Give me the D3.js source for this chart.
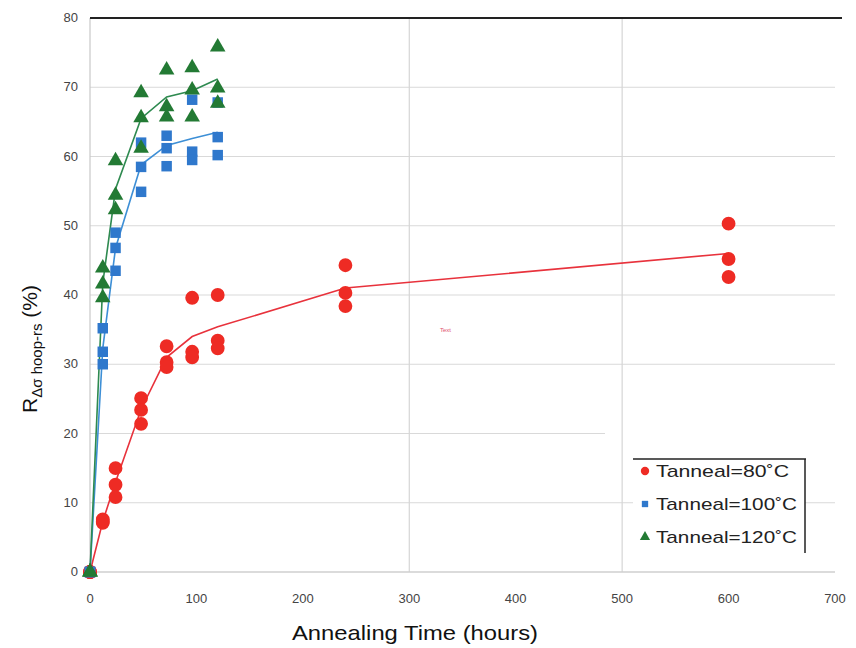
<!DOCTYPE html>
<html>
<head>
    <script src="https://d3js.org/d3.v7.min.js"></script>
    <style>
        body { margin: 0; background: #fff; }
        text { font-family: "Liberation Sans", Arial, sans-serif; }
    </style>
</head>
<body>
    <svg width="856" height="648"></svg>
    <script>
        // annealing times (hours) and measured R values (%), three repeats per time
        var times = [0, 12, 24, 48, 72, 96, 120, 240, 600];
        var r80 = [[0, 0, 0], [7.6, 7.1, 7.3], [15, 12.6, 10.8], [25.1, 23.4, 21.4], [32.6, 30.3, 29.6],
                   [39.6, 31.8, 31], [40, 33.4, 32.3], [44.3, 40.3, 38.4], [50.3, 45.2, 42.6]];
        var times2 = [0, 12, 24, 48, 72, 96, 120];
        var r100 = [[0, 0, 0], [35.2, 31.8, 30], [49, 46.8, 43.5], [62, 58.5, 54.9], [63, 61.2, 58.6],
                    [68.2, 60.7, 59.5], [67.8, 62.8, 60.2]];
        var r120 = [[0, 0, 0], [43.9, 41.6, 39.6], [59.4, 54.4, 52.3], [69.2, 65.6, 61.2], [72.5, 67.2, 65.7],
                    [72.8, 69.6, 65.7], [75.8, 69.9, 67.7]];
        // trend lines
        var fit80 = [0, 7.3, 13, 23.5, 31, 34, 35.4, 41, 46];
        var fit100 = [0, 32.3, 46.8, 58.8, 61.6, 62.6, 63.5];
        var fit120 = [0, 41.7, 55.3, 65.5, 68.6, 69.5, 71.2];
        var xTicks = [0, 100, 200, 300, 400, 500, 600, 700];
        var yTicks = [0, 10, 20, 30, 40, 50, 60, 70, 80];
        var xGrid = [300, 500];
        var legendLabels = ["Tanneal=80\u02DAC", "Tanneal=100\u02DAC", "Tanneal=120\u02DAC"];

        var svg = d3.select("svg");
        var x = d3.scaleLinear().domain([0, 700]).range([90, 835]);
        var y = d3.scaleLinear().domain([0, 80]).range([572, 18]);

        var red = "#ee2b24", blue = "#2f78cc", green = "#237a34";

        // horizontal grid
        svg.append("g").selectAll("line").data(yTicks.slice(1)).enter().append("line")
            .attr("x1", x(0)).attr("x2", function(d) { return d == 20 ? 605 : x(700); })
            .attr("y1", function(d) { return y(d); }).attr("y2", function(d) { return y(d); })
            .attr("stroke", "#d9d9d9").attr("stroke-width", 1.2);
        svg.append("g").selectAll("line").data(xGrid).enter().append("line")
            .attr("x1", function(d) { return x(d); }).attr("x2", function(d) { return x(d); })
            .attr("y1", y(80)).attr("y2", y(0))
            .attr("stroke", "#d6d6d6").attr("stroke-width", 1.2);

        // axes lines
        svg.append("line").attr("x1", x(0)).attr("x2", x(0)).attr("y1", y(80)).attr("y2", y(0))
            .attr("stroke", "#c8c8c8").attr("stroke-width", 1.2);
        svg.append("line").attr("x1", x(0)).attr("x2", x(700)).attr("y1", y(0)).attr("y2", y(0))
            .attr("stroke", "#cfcfcf").attr("stroke-width", 1.5);
        svg.append("line").attr("x1", x(0)).attr("x2", 842).attr("y1", y(80)).attr("y2", y(80))
            .attr("stroke", "#222").attr("stroke-width", 2);

        // tick labels
        svg.append("g").selectAll("text").data(yTicks).enter().append("text")
            .attr("x", 78).attr("y", function(d) { return y(d) + 4; })
            .attr("text-anchor", "end").attr("font-size", 13).attr("fill", "#444")
            .text(function(d) { return d; });
        svg.append("g").selectAll("text").data(xTicks).enter().append("text")
            .attr("x", function(d) { return x(d); }).attr("y", 603)
            .attr("text-anchor", "middle").attr("font-size", 13).attr("fill", "#444")
            .text(function(d) { return d; });

        // axis titles
        svg.append("text").attr("x", 415).attr("y", 640).attr("text-anchor", "middle")
            .attr("font-size", 21).attr("fill", "#111")
            .attr("textLength", 246).attr("lengthAdjust", "spacingAndGlyphs")
            .text("Annealing Time (hours)");
        var yl = svg.append("text").attr("transform", "translate(37,349) rotate(-90)")
            .attr("text-anchor", "middle").attr("font-size", 21).attr("fill", "#111");
        yl.append("tspan").text("R");
        yl.append("tspan").attr("font-size", 15).attr("dy", 5).text("\u0394\u03C3 hoop-rs");
        yl.append("tspan").attr("dy", -5).text(" (%)");

        svg.append("text").attr("x", 440).attr("y", 332).attr("font-size", 6)
            .attr("fill", "#e05070").text("Text");

        // trend lines
        var line = d3.line().x(function(d) { return x(d[0]); }).y(function(d) { return y(d[1]); });
        svg.append("path").datum(d3.zip(times, fit80)).attr("d", line)
            .attr("fill", "none").attr("stroke", "#e8323c").attr("stroke-width", 1.6);
        svg.append("path").datum(d3.zip(times2, fit100)).attr("d", line)
            .attr("fill", "none").attr("stroke", "#3d8fd6").attr("stroke-width", 1.6);
        svg.append("path").datum(d3.zip(times2, fit120)).attr("d", line)
            .attr("fill", "none").attr("stroke", "#2e8a50").attr("stroke-width", 1.6);

        function flat(ts, vals) {
            var out = [];
            ts.forEach(function(t, i) { vals[i].forEach(function(v) { out.push([t, v]); }); });
            return out;
        }

        var circ = d3.symbol().type(d3.symbolCircle).size(150);
        var sq = d3.symbol().type(d3.symbolSquare).size(110);
        var tri = d3.symbol().type(d3.symbolTriangle).size(105);

        function drawSeries(pts, sym, color) {
            svg.append("g").selectAll("path").data(pts).enter().append("path")
                .attr("d", sym)
                .attr("transform", function(d) { return "translate(" + x(d[0]) + "," + y(d[1]) + ")"; })
                .attr("fill", color);
        }
        drawSeries(flat(times, r80), circ, red);
        drawSeries(flat(times2, r100), sq, blue);
        drawSeries(flat(times2, r120), tri, green);

        // legend
        var lg = svg.append("g");
        lg.append("rect").attr("x", 633).attr("y", 459).attr("width", 172).attr("height", 108).attr("fill", "#fff");
        lg.append("line").attr("x1", 633).attr("x2", 806).attr("y1", 459).attr("y2", 459)
            .attr("stroke", "#222").attr("stroke-width", 1.5);
        lg.append("line").attr("x1", 805).attr("x2", 805).attr("y1", 459).attr("y2", 553)
            .attr("stroke", "#222").attr("stroke-width", 1.5);
        var syms = [d3.symbol().type(d3.symbolCircle).size(55), d3.symbol().type(d3.symbolSquare).size(40),
                    d3.symbol().type(d3.symbolTriangle).size(45)];
        var cols = [red, blue, green];
        var widths = [133, 141, 141];
        legendLabels.forEach(function(l, i) {
            var yy = 471 + i * 33;
            lg.append("path").attr("d", syms[i]).attr("transform", "translate(645," + yy + ")").attr("fill", cols[i]);
            lg.append("text").attr("x", 656).attr("y", yy + 6).attr("font-size", 17).attr("fill", "#222")
                .attr("textLength", widths[i]).attr("lengthAdjust", "spacingAndGlyphs").text(l);
        });
    </script>
</body>
</html>
